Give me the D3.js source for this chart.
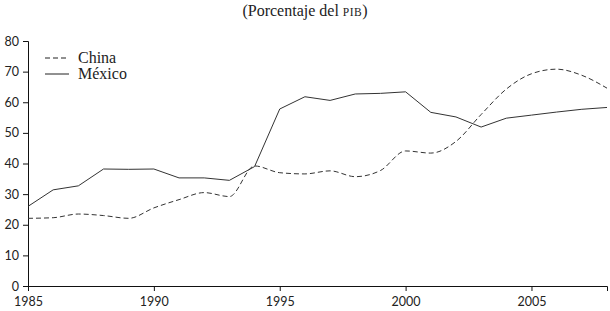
<!DOCTYPE html>
<html>
<head>
<meta charset="utf-8">
<script src="https://cdn.jsdelivr.net/npm/d3@7"></script>
<style>
  body { margin: 0; background: #fff; }
  .axis text { font-family: "Lato", "DejaVu Sans", sans-serif; font-size: 12.5px; fill: #222; }
  .axis path, .axis line { stroke: #111; }
</style>
</head>
<body>
<div id="chart"></div>
<script>
const years = d3.range(1985, 2009);
const china = [22.1, 22.3, 23.5, 23.0, 22.1, 25.5, 28.2, 30.5, 29.2, 39.2, 37.0, 36.6, 37.6, 35.7, 37.7,
               44.1, 43.4, 47.2, 56.0, 64.3, 69.3, 70.8, 68.8, 64.6];
const mexico = [26.0, 31.4, 32.7, 38.2, 38.1, 38.2, 35.3, 35.3, 34.5, 39.0, 57.8, 61.8, 60.6, 62.7, 62.9,
                63.4, 56.7, 55.2, 51.9, 54.8, 55.8, 56.8, 57.7, 58.3];
const xTicks = [1985, 1990, 1995, 2000, 2005];
const yTicks = [0, 10, 20, 30, 40, 50, 60, 70, 80];

const width = 610, height = 311;
const margin = {top: 41, right: 3, bottom: 25, left: 28};

const svg = d3.select('#chart').append('svg')
    .attr('width', width)
    .attr('height', height);

const x = d3.scaleLinear()
    .domain([1985, 2008])
    .range([margin.left, width - margin.right]);

const y = d3.scaleLinear()
    .domain([0, 80])
    .range([height - margin.bottom, margin.top]);

// titulo
const title = svg.append('text')
    .attr('x', 305)
    .attr('y', 16)
    .attr('text-anchor', 'middle')
    .style('font-family', '"Liberation Serif", serif')
    .style('font-size', '16px')
    .style('fill', '#222');
title.append('tspan').text('(Porcentaje del ');
title.append('tspan').style('font-size', '11.5px').style('letter-spacing', '0.5px').text('PIB');
title.append('tspan').text(')');

svg.append('g')
    .attr('class', 'axis')
    .attr('transform', `translate(0,${height - margin.bottom})`)
    .call(d3.axisBottom(x).tickValues(xTicks).tickFormat(d3.format('d')).tickSize(5))
    .call(g => g.selectAll('text').attr('dy', '0.95em'));

svg.append('g')
    .attr('class', 'axis')
    .attr('transform', `translate(${margin.left},0)`)
    .call(d3.axisLeft(y).tickValues(yTicks).tickSize(5))
    .call(g => g.selectAll('text').attr('x', -9));

const line = (data, curve) => d3.line()
    .curve(curve)
    .x((d, i) => x(years[i]))
    .y(d => y(d))(data);

svg.append('path')
    .attr('d', line(china, d3.curveMonotoneX))
    .attr('fill', 'none')
    .attr('stroke', '#333')
    .attr('stroke-width', 1)
    .attr('stroke-dasharray', '5,3');

svg.append('path')
    .attr('d', line(mexico, d3.curveLinear))
    .attr('fill', 'none')
    .attr('stroke', '#333')
    .attr('stroke-width', 1);

// leyenda
const legend = [
    {name: 'China', dash: '5,3', yPos: 58},
    {name: 'México', dash: null, yPos: 74}
];
const lg = svg.append('g').selectAll('g')
    .data(legend)
    .enter().append('g');
lg.append('line')
    .attr('x1', 45).attr('x2', 69)
    .attr('y1', d => d.yPos).attr('y2', d => d.yPos)
    .attr('stroke', '#222')
    .attr('stroke-dasharray', d => d.dash);
lg.append('text')
    .attr('x', 78)
    .attr('y', d => d.yPos + 5)
    .style('font-family', '"Liberation Serif", serif')
    .style('font-size', '16px')
    .style('fill', '#222')
    .text(d => d.name);
</script>
</body>
</html>
